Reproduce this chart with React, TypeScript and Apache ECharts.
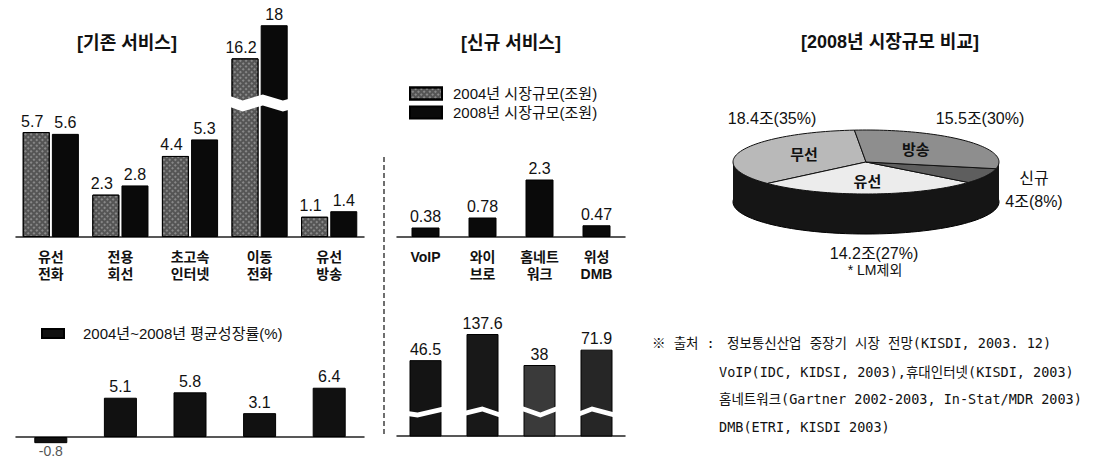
import React, { useEffect, useRef } from "react";
import * as echarts from "echarts";

// ---------- data ----------
const existingCategories = ["유선\n전화", "전용\n회선", "초고속\n인터넷", "이동\n전화", "유선\n방송"];
const existing2004 = [5.7, 2.3, 4.4, 16.2, 1.1];
const existing2008 = [5.6, 2.8, 5.3, 18, 1.4];
const existingGrowth = [-0.8, 5.1, 5.8, 3.1, 6.4];

const newCategories = ["VoIP", "와이\n브로", "홈네트\n워크", "위성\nDMB"];
const new2008 = [0.38, 0.78, 2.3, 0.47];
const newGrowth = [46.5, 137.6, 38, 71.9];

const pieNames = ["무선", "유선", "신규", "방송"];
const pieValues = [18.4, 14.2, 4, 15.5];

const titles = ["[기존 서비스]", "[신규 서비스]", "[2008년 시장규모 비교]"];
const S2004 = "2004년 시장규모(조원)";
const S2008 = "2008년 시장규모(조원)";
const SG = "2004년~2008년 평균성장률(%)";
const pieNote = "* LM제외";
const sourceHead = "※ 출처 :";
const sourceLines = [
  "정보통신산업 중장기 시장 전망(KISDI, 2003. 12)",
  "VoIP(IDC, KIDSI, 2003),휴대인터넷(KISDI, 2003)",
  "홈네트워크(Gartner 2002-2003, In-Stat/MDR 2003)",
  "DMB(ETRI, KISDI 2003)",
];

// ---------- styles / layout ----------
const FONT = "'Liberation Sans', 'Noto Sans CJK KR', sans-serif";
const MONO = "'DejaVu Sans Mono', 'Noto Sans CJK KR', monospace";
const PIE = { cx: 866, cy: 162, rx: 133, ry: 32, depth: 40, start: 95 };
const pieColors = ["#b9b9b9", "#ececec", "#5e5e5e", "#8e8e8e"];
const pieLabelPos = [
  [772, 118],
  [874, 253],
  [1034, 190],
  [980, 118],
];
const sourceY = [343, 372, 399, 427];
const growthColors = ["#141414", "#181818", "#3a3a3a", "#262626"];

const hatch = {
  symbol: "rect",
  symbolSize: 0.8,
  color: "rgba(255,255,255,0.5)",
  dashArrayX: [2, 2],
  dashArrayY: [2, 2],
  rotation: Math.PI / 4,
};

const valueLabel = {
  show: true,
  position: "top",
  distance: 3,
  fontSize: 16,
  fontFamily: FONT,
  color: "#111",
};

const catLabel = {
  interval: 0,
  fontSize: 14,
  fontWeight: "bold",
  fontFamily: FONT,
  color: "#111",
  lineHeight: 17,
  margin: 11,
};

const baseLine = { show: true, onZero: true, lineStyle: { color: "#222", width: 1.5 } };

const hiddenY = {
  type: "value",
  axisLine: { show: false },
  axisTick: { show: false },
  axisLabel: { show: false },
  splitLine: { show: false },
};

const breakArea = {
  show: true,
  itemStyle: { color: "#fff", borderColor: "#fff", borderWidth: 0, opacity: 1 },
  zigzagAmplitude: 3,
  zigzagMinSpan: 14,
  zigzagMaxSpan: 28,
  zigzagZ: 100,
  expandOnClick: false,
};

const pieTotal = pieValues.reduce((a, b) => a + b, 0);

function txt(text: string, x: number, y: number, extra: any = {}) {
  return {
    type: "text",
    x,
    y,
    z: 10,
    style: {
      text,
      fill: "#111",
      fontSize: 16,
      fontFamily: FONT,
      align: "center",
      textAlign: "center",
      verticalAlign: "middle",
      textVerticalAlign: "middle",
      ...extra,
    },
  };
}

function buildOption(): any {
  const mono = { fontFamily: MONO, fontSize: 13.5, align: "left", textAlign: "left" };
  const graphics: any[] = [
    txt(titles[0], 127, 43, { fontSize: 18, fontWeight: "bold" }),
    txt(titles[1], 511, 43, { fontSize: 18, fontWeight: "bold" }),
    txt(titles[2], 890, 42, { fontSize: 18, fontWeight: "bold" }),
    {
      type: "line",
      z: 1,
      shape: { x1: 384, y1: 157, x2: 384, y2: 437 },
      style: { stroke: "#222", lineWidth: 1.3, lineDash: [5, 3] },
    },
    // pie wall (cylinder side)
    {
      type: "ellipse",
      z: 1,
      shape: { cx: PIE.cx, cy: PIE.cy + PIE.depth, rx: PIE.rx, ry: PIE.ry },
      style: { fill: "#151515", stroke: "#000", lineWidth: 1 },
    },
    {
      type: "rect",
      z: 1,
      shape: { x: PIE.cx - PIE.rx, y: PIE.cy, width: PIE.rx * 2, height: PIE.depth },
      style: { fill: "#151515" },
    },
    txt(pieNote, 875, 270, { fontSize: 14 }),
    txt(sourceHead, 652, sourceY[0], mono),
  ];
  sourceLines.forEach((line, i) => {
    graphics.push(txt(line, i === 0 ? 727 : 719, sourceY[i], mono));
  });
  pieValues.forEach((v, i) => {
    const pct = Math.round((v / pieTotal) * 100);
    const t = `${v}조(${pct}%)`;
    const text = pieNames[i] === "신규" ? `${pieNames[i]}\n${t}` : t;
    graphics.push(txt(text, pieLabelPos[i][0], pieLabelPos[i][1], { lineHeight: 23 }));
  });

  return {
    animation: false,
    backgroundColor: "#fff",
    textStyle: { fontFamily: FONT },
    legend: [
      {
        data: [S2004, S2008],
        orient: "vertical",
        left: 404,
        top: 81,
        itemWidth: 32,
        itemHeight: 12,
        itemGap: 4,
        icon: "rect",
        selectedMode: false,
        textStyle: { fontSize: 15, lineHeight: 15, color: "#111", fontFamily: FONT, padding: [0, 0, 0, 6] },
      },
      {
        data: [SG],
        left: 36,
        top: 321,
        itemWidth: 22,
        itemHeight: 9,
        icon: "rect",
        selectedMode: false,
        textStyle: { fontSize: 15, lineHeight: 15, color: "#111", fontFamily: FONT, padding: [0, 0, 0, 14] },
      },
    ],
    grid: [
      { left: 16, width: 348, top: 16, height: 221 },
      { left: 16, width: 348, top: 375.4, height: 69.3 },
      { left: 397, width: 228, top: 162, height: 75 },
      { left: 397, width: 228, top: 325, height: 111 },
    ],
    xAxis: [
      {
        gridIndex: 0,
        type: "category",
        data: existingCategories,
        axisLine: baseLine,
        axisTick: { show: false },
        axisLabel: catLabel,
      },
      {
        gridIndex: 1,
        type: "category",
        data: existingCategories,
        axisLine: baseLine,
        axisTick: { show: false },
        axisLabel: { show: false },
      },
      {
        gridIndex: 2,
        type: "category",
        data: newCategories,
        axisLine: baseLine,
        axisTick: { show: false },
        axisLabel: catLabel,
      },
      {
        gridIndex: 3,
        type: "category",
        data: newCategories,
        axisLine: baseLine,
        axisTick: { show: false },
        axisLabel: { show: false },
      },
    ],
    yAxis: [
      {
        ...hiddenY,
        gridIndex: 0,
        min: 0,
        max: 18.5,
        breaks: [{ start: 7, end: 14.1, gap: "5%" }],
        breakArea,
      },
      { ...hiddenY, gridIndex: 1, min: -1, max: 8 },
      { ...hiddenY, gridIndex: 2, min: 0, max: 3 },
      {
        ...hiddenY,
        type: "log",
        logBase: 10,
        gridIndex: 3,
        min: 2,
        max: 200,
        breaks: [{ start: 5, end: 6, gap: "4%" }],
        breakArea,
      },
    ],
    graphic: { elements: graphics },
    series: [
      {
        type: "bar",
        name: S2004,
        xAxisIndex: 0,
        yAxisIndex: 0,
        data: existing2004,
        barWidth: 27,
        barGap: "8%",
        itemStyle: { color: "#555", borderColor: "#000", borderWidth: 1, decal: hatch },
        label: { ...valueLabel, offset: [-4, 0] },
      },
      {
        type: "bar",
        name: S2008,
        xAxisIndex: 0,
        yAxisIndex: 0,
        data: existing2008,
        barWidth: 27,
        barGap: "8%",
        itemStyle: { color: "#0a0a0a", borderColor: "#000", borderWidth: 1 },
        label: valueLabel,
      },
      {
        type: "bar",
        name: SG,
        xAxisIndex: 1,
        yAxisIndex: 1,
        barWidth: 33,
        data: existingGrowth.map((v) =>
          v < 0
            ? { value: v, label: { position: "bottom", distance: 1, fontSize: 14, color: "#555" } }
            : v
        ),
        itemStyle: { color: "#111", borderColor: "#000", borderWidth: 1 },
        label: valueLabel,
      },
      {
        type: "bar",
        name: S2008,
        xAxisIndex: 2,
        yAxisIndex: 2,
        data: new2008,
        barWidth: 28,
        itemStyle: { color: "#0a0a0a", borderColor: "#000", borderWidth: 1 },
        label: valueLabel,
      },
      {
        type: "bar",
        name: SG,
        xAxisIndex: 3,
        yAxisIndex: 3,
        data: newGrowth.map((v, i) => ({ value: v, itemStyle: { color: growthColors[i] } })),
        barWidth: 32,
        itemStyle: { color: "#111", borderColor: "#000", borderWidth: 1 },
        label: valueLabel,
      },
      {
        type: "custom",
        name: "2008년 시장규모 비교",
        coordinateSystem: "none",
        z: 5,
        data: pieValues,
        renderItem: (params: any, api: any) => {
          const i = params.dataIndex;
          const v = api.value(0);
          let before = 0;
          for (let k = 0; k < i; k++) before += pieValues[k];
          const a0 = PIE.start + (before / pieTotal) * 360;
          const a1 = a0 + (v / pieTotal) * 360;
          const pts: number[][] = [[PIE.cx, PIE.cy]];
          const n = 60;
          for (let s = 0; s <= n; s++) {
            const a = ((a0 + ((a1 - a0) * s) / n) * Math.PI) / 180;
            pts.push([PIE.cx + PIE.rx * Math.cos(a), PIE.cy - PIE.ry * Math.sin(a)]);
          }
          const children: any[] = [
            {
              type: "polygon",
              shape: { points: pts },
              style: { fill: pieColors[i], stroke: "#111", lineWidth: 1 },
            },
          ];
          if (pieNames[i] !== "신규") {
            const mid = (((a0 + a1) / 2) * Math.PI) / 180;
            children.push({
              type: "text",
              x: PIE.cx + 0.5 * PIE.rx * Math.cos(mid),
              y: PIE.cy - 0.6 * PIE.ry * Math.sin(mid),
              style: {
                text: pieNames[i],
                fill: "#111",
                fontSize: 15,
                fontWeight: "bold",
                fontFamily: FONT,
                align: "center",
                verticalAlign: "middle",
              },
            });
          }
          return { type: "group", children };
        },
      },
    ],
  };
}

export default function App() {
  const ref = useRef<HTMLDivElement>(null);
  useEffect(() => {
    const chart = echarts.init(ref.current!, null, { renderer: "svg" });
    chart.setOption(buildOption());
    return () => chart.dispose();
  }, []);
  return (
    <div
      ref={ref}
      style={{ position: "fixed", left: 0, top: 0, width: 1094, height: 461, background: "#fff" }}
    />
  );
}
